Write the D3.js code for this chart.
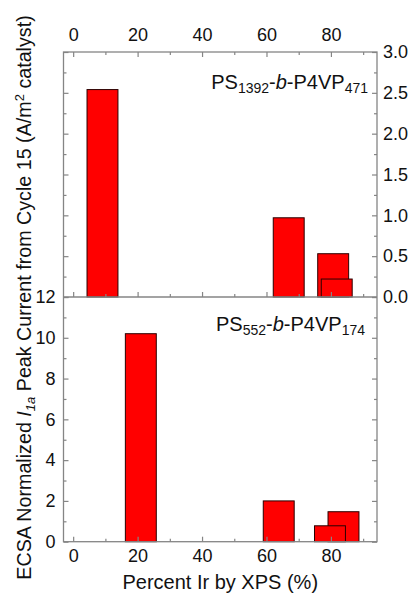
<html>
<head>
<title>ECSA normalized peak current</title>
<script src="https://cdn.jsdelivr.net/npm/d3@7"></script>
<style>
  body { margin: 0; background: #fff; }
  text { font-family: "Liberation Sans", Arial, sans-serif; fill: #111; }
</style>
</head>
<body>
<div id="chart"></div>
<script>
// data
const topPercent = [9.1, 66.9, 80.7, 81.8];
const topCurrent = [2.54, 0.97, 0.53, 0.22];
const botPercent = [21.0, 63.8, 83.9, 79.7];
const botCurrent = [10.2, 2.0, 1.47, 0.78];

const xTicks = [0, 20, 40, 60, 80];
const xMinor = [10, 30, 50, 70, 90];
const topYTicks = [0, 0.5, 1.0, 1.5, 2.0, 2.5, 3.0];
const topYMinor = [0.25, 0.75, 1.25, 1.75, 2.25, 2.75];
const botYTicks = [0, 2, 4, 6, 8, 10, 12];
const botYMinor = [1, 3, 5, 7, 9, 11];

const width = 412, height = 597;
const L = 63.5, R = 377, T = 52, M = 297, B = 541.7;
const barHalf = 4.8;
const frameColor = "#858585";

const svg = d3.select("#chart").append("svg")
    .attr("width", width)
    .attr("height", height);

const x = d3.scaleLinear().domain([-3, 94.3]).range([L, R]);
const yTop = d3.scaleLinear().domain([0, 3]).range([M, T]);
const yBot = d3.scaleLinear().domain([0, 12]).range([B, M]);

function styleAxis(g) {
    g.select(".domain").remove();
    g.selectAll("line").attr("stroke", frameColor).attr("stroke-width", 1.2);
    g.selectAll("text").style("font-size", "18px").attr("fill", "#111");
}

function addAxis(axis, ticks, minor, size, tx, ty, labels, pad) {
    svg.append("g")
        .attr("transform", "translate(" + tx + "," + ty + ")")
        .call(axis.tickValues(minor).tickSize(-3).tickFormat(""))
        .call(styleAxis);
    svg.append("g")
        .attr("transform", "translate(" + tx + "," + ty + ")")
        .call(axis.tickValues(ticks).tickSize(-size).tickPadding(pad)
              .tickFormat(labels ? labels : ""))
        .call(styleAxis);
}

// bars, top panel
svg.append("g")
    .selectAll("rect")
    .data(topPercent)
    .join("rect")
    .attr("x", (d) => x(d - barHalf))
    .attr("width", (d) => x(d + barHalf) - x(d - barHalf))
    .attr("y", (d, i) => yTop(topCurrent[i]))
    .attr("height", (d, i) => M - yTop(topCurrent[i]))
    .attr("fill", "#ff0000")
    .attr("stroke", "#2a0000")
    .attr("stroke-width", 1);

// bars, bottom panel
svg.append("g")
    .selectAll("rect")
    .data(botPercent)
    .join("rect")
    .attr("x", (d) => x(d - barHalf))
    .attr("width", (d) => x(d + barHalf) - x(d - barHalf))
    .attr("y", (d, i) => yBot(botCurrent[i]))
    .attr("height", (d, i) => B - yBot(botCurrent[i]))
    .attr("fill", "#ff0000")
    .attr("stroke", "#2a0000")
    .attr("stroke-width", 1);

// axes, top panel
addAxis(d3.axisTop(x), xTicks, xMinor, 5, 0, T, d3.format("d"), 11);
addAxis(d3.axisBottom(x), xTicks, xMinor, 5, 0, M, null, 0);
addAxis(d3.axisLeft(yTop), topYTicks, topYMinor, 5, L, 0, null, 0);
addAxis(d3.axisRight(yTop), topYTicks, topYMinor, 5, R, 0, d3.format(".1f"), 6);

// axes, bottom panel
addAxis(d3.axisBottom(x), xTicks, xMinor, 5, 0, B, d3.format("d"), 8);
addAxis(d3.axisLeft(yBot), botYTicks, botYMinor, 5, L, 0, d3.format("d"), 8);
addAxis(d3.axisRight(yBot), botYTicks, botYMinor, 5, R, 0, null, 0);

// frames
svg.append("rect")
    .attr("x", L).attr("y", T)
    .attr("width", R - L).attr("height", B - T)
    .attr("fill", "none")
    .attr("stroke", frameColor)
    .attr("stroke-width", 1.3);
svg.append("line")
    .attr("x1", L).attr("x2", R)
    .attr("y1", M).attr("y2", M)
    .attr("stroke", frameColor)
    .attr("stroke-width", 1.3);

// panel labels
function polymer(yPos, xEnd, a, b) {
    const t = svg.append("text")
        .attr("x", xEnd).attr("y", yPos)
        .attr("text-anchor", "end")
        .style("font-size", "20px");
    t.append("tspan").text("PS");
    t.append("tspan").attr("dy", 3.5).style("font-size", "14px").text(a);
    t.append("tspan").attr("dy", -3.5).text("-");
    t.append("tspan").style("font-style", "italic").text("b");
    t.append("tspan").text("-P4VP");
    t.append("tspan").attr("dy", 3.5).style("font-size", "14px").text(b);
}
polymer(89, 368, "1392", "471");
polymer(331, 365, "552", "174");

// x axis title
svg.append("text")
    .attr("x", (L + R) / 2)
    .attr("y", 589)
    .attr("text-anchor", "middle")
    .style("font-size", "20px")
    .text("Percent Ir by XPS (%)");

// y axis title
const yl = svg.append("text")
    .attr("transform", "rotate(-90)")
    .attr("x", -297.5)
    .attr("y", 31)
    .attr("text-anchor", "middle")
    .style("font-size", "19.7px");
yl.append("tspan").text("ECSA Normalized ");
yl.append("tspan").style("font-style", "italic").text("I");
yl.append("tspan").attr("dy", 4).style("font-style", "italic").style("font-size", "13px").text("1a");
yl.append("tspan").attr("dy", -4).text(" Peak Current from Cycle 15 (A/m");
yl.append("tspan").attr("dy", -7).style("font-size", "13px").text("2");
yl.append("tspan").attr("dy", 7).text(" catalyst)");
</script>
</body>
</html>
